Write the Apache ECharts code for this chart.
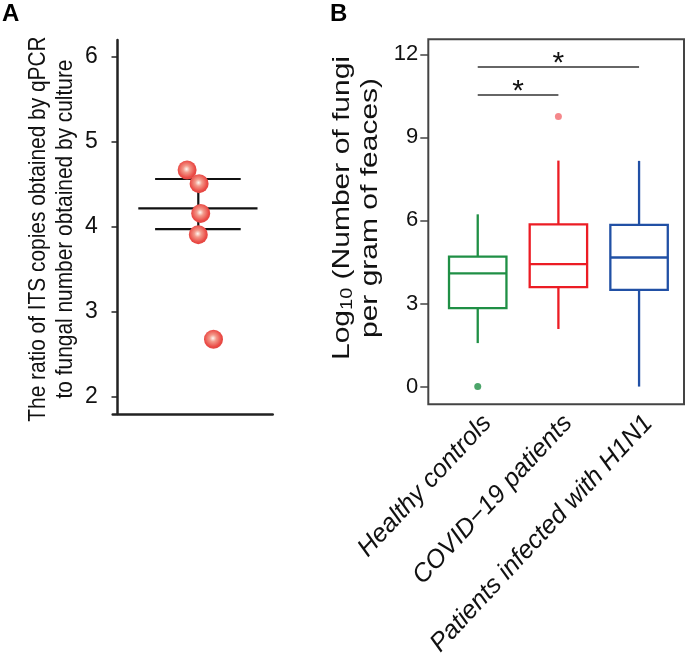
<!DOCTYPE html>
<html>
<head>
<meta charset="utf-8">
<script src="https://cdn.jsdelivr.net/npm/echarts@6/dist/echarts.min.js"></script>
<style>
html,body{margin:0;padding:0;background:#fff;}
#c{width:685px;height:658px;}
</style>
</head>
<body>
<div id="c"></div>
<script>
// ---------- Panel A data ----------
const ratioX = [0.87, 1.02, 1.04, 1.01, 1.20];      // jittered x positions (group at 1)
const ratioY = [4.67, 4.51, 4.16, 3.91, 2.68];
const ratioMean = 4.22;
const ratioSdUpper = 4.565;
const ratioSdLower = 3.975;
const ratioTicks = [2, 3, 4, 5, 6];

// ---------- Panel B data ----------
const groups = ['Healthy controls', 'COVID\u221219 patients', 'Patients infected with H1N1'];
// [lower whisker, Q1, median, Q3, upper whisker]
const healthyBox = [1.57, 2.83, 4.09, 4.69, 6.22];
const covidBox   = [2.08, 3.59, 4.42, 5.86, 8.16];
const h1n1Box    = [0.00, 3.49, 4.66, 5.84, 8.15];
const outliers = [[0, 0.0], [1, 9.75]];
const logTicks = [0, 3, 6, 9, 12];
const sigLines = [[0, 2, 11.55], [0, 1, 10.53]];   // [from group, to group, level]

const boxColors = ['#1f8f45', '#ec1c24', '#2150a5'];
const outlierColors = ['#1f8f45', '#f26a6e'];

const FONT = '"Liberation Sans", Arial, Helvetica, sans-serif';

const chart = echarts.init(document.getElementById('c'), null, {renderer: 'canvas'});

const dotColor = {
  type: 'radial', x: 0.47, y: 0.45, r: 0.6,
  colorStops: [
    {offset: 0, color: '#fff8f2'},
    {offset: 0.3, color: '#f3998a'},
    {offset: 0.75, color: '#ea4b46'},
    {offset: 1, color: '#e0413d'}
  ]
};

function renderBox(params, api) {
  const xi = api.value(0);
  const low = api.coord([xi, api.value(1)]);
  const q1 = api.coord([xi, api.value(2)]);
  const med = api.coord([xi, api.value(3)]);
  const q3 = api.coord([xi, api.value(4)]);
  const high = api.coord([xi, api.value(5)]);
  const halfW = api.size([1, 0])[0] * 0.356;
  const cx = q1[0];
  const style = {stroke: boxColors[params.dataIndex], lineWidth: 2.3, fill: null};
  return {
    type: 'group',
    children: [
      {type: 'line', shape: {x1: cx, y1: high[1], x2: cx, y2: q3[1]}, style: style},
      {type: 'line', shape: {x1: cx, y1: q1[1], x2: cx, y2: low[1]}, style: style},
      {type: 'rect', shape: {x: cx - halfW, y: q3[1], width: 2 * halfW, height: q1[1] - q3[1]}, style: style},
      {type: 'line', shape: {x1: cx - halfW, y1: med[1], x2: cx + halfW, y2: med[1]}, style: style}
    ]
  };
}

const option = {
  animation: false,
  backgroundColor: '#fff',
  textStyle: {fontFamily: FONT},
  title: [
    {text: 'A', left: 2, top: 2, padding: 0, textStyle: {fontFamily: FONT, fontSize: 24, fontWeight: 'bold', color: '#000'}},
    {text: 'B', left: 330, top: 2, padding: 0, textStyle: {fontFamily: FONT, fontSize: 24, fontWeight: 'bold', color: '#000'}}
  ],
  graphic: [
    {type: 'text', x: 52, y: 229, rotation: Math.PI / 2, scaleX: 0.87, silent: true,
     style: {text: 'The ratio of ITS copies obtained by qPCR\nto fungal number obtained by culture',
             fontFamily: FONT, fontSize: 24, lineHeight: 26.5, fill: '#111', align: 'center', verticalAlign: 'middle'}},
    {type: 'text', x: 356, y: 208, rotation: Math.PI / 2, scaleX: 1.25, silent: true,
     style: {text: 'Log{sub|10} (Number of fungi\nper gram of feaces)',
             fontFamily: FONT, fontSize: 24, lineHeight: 28, fill: '#111', align: 'center', verticalAlign: 'middle',
             rich: {sub: {fontSize: 16, fontFamily: FONT, fill: '#111', verticalAlign: 'bottom', padding: [12, 0, 0, 0]}}}}
  ],
  grid: [
    {left: 112.7, top: 40, width: 160, height: 374, outerBoundsMode: 'none'},
    {left: 428.3, top: 39.3, width: 255.7, height: 365, show: true, borderColor: '#444', borderWidth: 2,
     backgroundColor: 'transparent', outerBoundsMode: 'none'},
    {left: 437.4, top: 39.3, width: 242, height: 365, outerBoundsMode: 'none'}
  ],
  xAxis: [
    {gridIndex: 0, type: 'value', min: -0.06, max: 1.94,
     axisLine: {show: true, onZero: false, lineStyle: {color: '#222', width: 2.5}},
     axisTick: {show: false}, axisLabel: {show: false}, splitLine: {show: false}},
    {gridIndex: 1, type: 'value', min: 0, max: 1, show: false},
    {gridIndex: 2, type: 'category', data: groups,
     axisLine: {show: false}, axisTick: {show: false}, splitLine: {show: false},
     axisLabel: {rotate: 47, margin: 6, fontSize: 25.5, fontStyle: 'italic', color: '#111', fontFamily: FONT,
                 interval: 0, verticalAlign: 'top'}}
  ],
  yAxis: [
    {gridIndex: 0, type: 'value', min: 1.8, max: 6.2,
     axisLine: {show: true, lineStyle: {color: '#222', width: 2.5}},
     axisTick: {show: true, length: 6, lineStyle: {color: '#222', width: 1.5}, customValues: ratioTicks},
     axisLabel: {margin: 15, fontSize: 23, color: '#111', fontFamily: FONT, customValues: ratioTicks},
     splitLine: {show: false}},
    {gridIndex: 1, type: 'value', min: -0.64, max: 12.54,
     axisLine: {show: false},
     axisTick: {show: true, length: 8, lineStyle: {color: '#444', width: 1.5}, customValues: logTicks},
     axisLabel: {margin: 10, fontSize: 22, color: '#111', fontFamily: FONT, customValues: logTicks},
     splitLine: {show: false}},
    {gridIndex: 2, type: 'value', min: -0.64, max: 12.54, show: false}
  ],
  series: [
    // Panel A: mean and SD bars
    {type: 'line', xAxisIndex: 0, yAxisIndex: 0, symbol: 'none', silent: true,
     lineStyle: {color: '#111', width: 2.2}, data: [[0.26, ratioMean], [1.75, ratioMean]]},
    {type: 'line', xAxisIndex: 0, yAxisIndex: 0, symbol: 'none', silent: true,
     lineStyle: {color: '#111', width: 2.2}, data: [[0.47, ratioSdUpper], [1.54, ratioSdUpper]]},
    {type: 'line', xAxisIndex: 0, yAxisIndex: 0, symbol: 'none', silent: true,
     lineStyle: {color: '#111', width: 2.2}, data: [[0.47, ratioSdLower], [1.54, ratioSdLower]]},
    {type: 'line', xAxisIndex: 0, yAxisIndex: 0, symbol: 'none', silent: true,
     lineStyle: {color: '#111', width: 2.2}, data: [[1.01, ratioSdLower], [1.01, ratioSdUpper]]},
    {type: 'scatter', xAxisIndex: 0, yAxisIndex: 0, symbolSize: 19, z: 5,
     itemStyle: {color: dotColor, opacity: 1},
     data: ratioX.map((x, i) => [x, ratioY[i]])},
    // Panel B: boxes (no whisker caps, as in the reference)
    {type: 'custom', xAxisIndex: 2, yAxisIndex: 2, renderItem: renderBox,
     encode: {x: 0, y: [1, 2, 3, 4, 5]},
     data: [healthyBox, covidBox, h1n1Box].map((b, i) => [i].concat(b))},
    {type: 'scatter', xAxisIndex: 2, yAxisIndex: 2, symbolSize: 7,
     data: outliers.map((p, i) => ({value: p, itemStyle: {color: outlierColors[i]}})),
     markLine: {
       silent: true, symbol: 'none',
       lineStyle: {color: '#333', width: 1.6, type: 'solid'},
       label: {show: true, position: 'middle', formatter: '*', fontSize: 30, color: '#111', distance: -12, fontFamily: FONT},
       data: sigLines.map(s => [{coord: [s[0], s[2]]}, {coord: [s[1], s[2]]}])
     }}
  ]
};
chart.setOption(option);
</script>
</body>
</html>
